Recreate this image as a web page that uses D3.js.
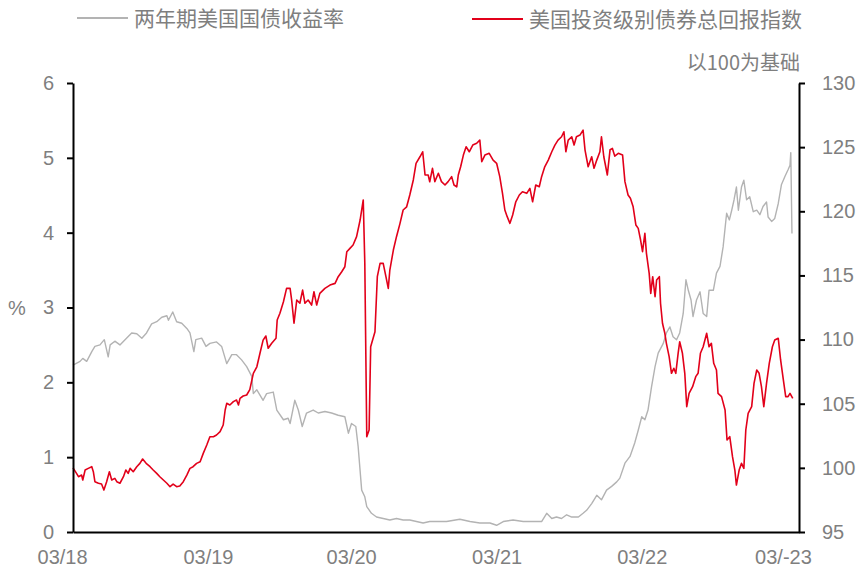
<!DOCTYPE html>
<html>
<head>
<meta charset="utf-8">
<script src="https://cdn.jsdelivr.net/npm/d3@7"></script>
<style>
  html, body { margin: 0; padding: 0; background: #ffffff; }
  svg { display: block; }
</style>
</head>
<body>
<svg id="chart" width="859" height="577"></svg>
<script>
// 2-year US Treasury yield (%), left axis
const yieldDates = [
  "2018-03-01","2018-03-19","2018-03-26","2018-04-05","2018-04-18","2018-04-26","2018-05-09","2018-05-20","2018-05-30","2018-06-04",
  "2018-06-16","2018-06-29","2018-07-12","2018-07-29","2018-08-11","2018-08-24","2018-09-05","2018-09-18","2018-10-01","2018-10-14",
  "2018-10-27","2018-10-31","2018-11-11","2018-11-21","2018-12-04","2018-12-17","2018-12-25","2019-01-04","2019-01-09","2019-01-24",
  "2019-02-04","2019-02-14","2019-03-03","2019-03-16","2019-03-29","2019-04-11","2019-04-23","2019-05-06","2019-05-19","2019-06-01",
  "2019-06-05","2019-06-14","2019-06-22","2019-06-30","2019-07-09","2019-07-26","2019-08-04","2019-08-21","2019-09-02","2019-09-07",
  "2019-09-19","2019-09-28","2019-10-08","2019-10-19","2019-11-05","2019-11-18","2019-12-05","2019-12-22","2020-01-08","2020-01-25",
  "2020-02-03","2020-02-11","2020-02-22","2020-02-28","2020-03-08","2020-03-16","2020-03-21","2020-04-02","2020-04-15","2020-05-02",
  "2020-05-19","2020-06-05","2020-06-22","2020-07-09","2020-07-26","2020-08-12","2020-08-29","2020-09-24","2020-10-11","2020-11-14",
  "2020-12-10","2021-01-04","2021-01-30","2021-02-16","2021-03-05","2021-03-30","2021-04-25","2021-05-21","2021-06-11","2021-06-24",
  "2021-07-07","2021-07-19","2021-08-01","2021-08-14","2021-08-27","2021-09-13","2021-09-25","2021-10-04","2021-10-17","2021-10-30",
  "2021-11-11","2021-11-24","2021-12-07","2021-12-20","2021-12-28","2022-01-10","2022-01-23","2022-02-04","2022-02-13","2022-02-22",
  "2022-03-02","2022-03-10","2022-03-19","2022-03-28","2022-04-05","2022-04-18","2022-04-26","2022-05-05","2022-05-13","2022-05-22",
  "2022-05-30","2022-06-08","2022-06-15","2022-06-21","2022-06-28","2022-07-03","2022-07-12","2022-07-21","2022-07-29","2022-08-07",
  "2022-08-13","2022-08-24","2022-09-01","2022-09-10","2022-09-18","2022-09-27","2022-10-04","2022-10-10","2022-10-16","2022-10-22",
  "2022-10-27","2022-11-04","2022-11-10","2022-11-17","2022-11-25","2022-12-04","2022-12-13","2022-12-21","2022-12-29","2023-01-07",
  "2023-01-11","2023-01-20","2023-01-28","2023-02-06","2023-02-14","2023-02-23","2023-03-03","2023-03-08","2023-03-10","2023-03-13"
];
const yieldValues = [
  2.23,2.28,2.32,2.28,2.41,2.48,2.50,2.57,2.34,2.50,
  2.55,2.50,2.57,2.66,2.65,2.59,2.66,2.78,2.81,2.87,
  2.89,2.83,2.94,2.81,2.79,2.72,2.66,2.41,2.57,2.59,
  2.48,2.52,2.54,2.48,2.25,2.37,2.37,2.30,2.21,2.08,
  1.85,1.90,1.83,1.76,1.85,1.87,1.63,1.50,1.52,1.45,
  1.76,1.63,1.41,1.59,1.63,1.59,1.61,1.59,1.56,1.54,
  1.32,1.45,1.41,1.14,0.56,0.47,0.34,0.25,0.20,0.18,
  0.16,0.18,0.16,0.16,0.14,0.12,0.14,0.14,0.14,0.17,
  0.14,0.12,0.12,0.09,0.14,0.16,0.14,0.14,0.14,0.25,
  0.18,0.20,0.18,0.23,0.20,0.20,0.25,0.29,0.38,0.49,
  0.43,0.56,0.61,0.67,0.72,0.92,1.01,1.19,1.36,1.54,
  1.50,1.63,1.94,2.21,2.39,2.52,2.66,2.74,2.61,2.57,
  2.66,2.92,3.37,3.23,3.10,2.88,3.10,3.21,2.92,2.88,
  3.23,3.23,3.46,3.55,3.81,4.26,4.17,4.30,4.44,4.61,
  4.30,4.61,4.70,4.44,4.48,4.28,4.30,4.24,4.35,4.41,
  4.21,4.15,4.19,4.39,4.64,4.75,4.84,4.90,5.07,3.99
];

// US investment grade bond total return index (base = 100), right axis
const indexDates = [
  "2018-03-01","2018-03-10","2018-03-15","2018-03-23","2018-03-26","2018-04-01","2018-04-09","2018-04-18","2018-04-22","2018-04-26",
  "2018-05-05","2018-05-13","2018-05-19","2018-05-26","2018-06-02","2018-06-08","2018-06-16","2018-06-21","2018-06-29","2018-07-08",
  "2018-07-14","2018-07-20","2018-07-25","2018-08-02","2018-08-11","2018-08-19","2018-08-26","2018-09-04","2018-09-14","2018-09-22",
  "2018-10-01","2018-10-09","2018-10-18","2018-10-27","2018-11-04","2018-11-12","2018-11-21","2018-11-29","2018-12-08","2018-12-17",
  "2018-12-25","2019-01-02","2019-01-11","2019-01-20","2019-01-28","2019-02-06","2019-02-14","2019-02-23","2019-03-03","2019-03-12",
  "2019-03-20","2019-03-25","2019-03-29","2019-04-06","2019-04-15","2019-04-23","2019-04-28","2019-05-02","2019-05-10","2019-05-19",
  "2019-05-27","2019-06-05","2019-06-14","2019-06-22","2019-06-30","2019-07-07","2019-07-13","2019-07-22","2019-08-02","2019-08-05",
  "2019-08-12","2019-08-21","2019-08-29","2019-09-07","2019-09-11","2019-09-17","2019-09-24","2019-10-02","2019-10-09","2019-10-15",
  "2019-10-23","2019-11-01","2019-11-07","2019-11-14","2019-11-22","2019-12-05","2019-12-18","2019-12-31","2020-01-08","2020-01-17",
  "2020-01-25","2020-01-30","2020-02-07","2020-02-15","2020-02-24","2020-03-04","2020-03-12","2020-03-16","2020-03-21","2020-03-27",
  "2020-03-31","2020-04-11","2020-04-17","2020-04-24","2020-05-02","2020-05-09","2020-05-15","2020-05-19","2020-05-28","2020-06-05",
  "2020-06-14","2020-06-22","2020-07-01","2020-07-09","2020-07-18","2020-07-25","2020-08-04","2020-08-11","2020-08-17","2020-08-25",
  "2020-08-29","2020-09-05","2020-09-11","2020-09-20","2020-09-28","2020-10-07","2020-10-15","2020-10-24","2020-10-30","2020-11-06",
  "2020-11-10","2020-11-16","2020-11-23","2020-11-30","2020-12-08","2020-12-17","2020-12-27","2021-01-04","2021-01-09","2021-01-17",
  "2021-01-28","2021-02-07","2021-02-16","2021-02-24","2021-03-03","2021-03-09","2021-03-15","2021-03-22","2021-03-29","2021-04-06",
  "2021-04-15","2021-04-23","2021-05-04","2021-05-12","2021-05-19","2021-05-27","2021-06-05","2021-06-11","2021-06-19","2021-06-28",
  "2021-07-07","2021-07-15","2021-07-23","2021-08-01","2021-08-07","2021-08-12","2021-08-18","2021-08-27","2021-09-02","2021-09-08",
  "2021-09-17","2021-09-25","2021-09-30","2021-10-08","2021-10-17","2021-10-23","2021-10-30","2021-11-07","2021-11-11","2021-11-17",
  "2021-11-26","2021-12-03","2021-12-09","2021-12-15","2021-12-24","2022-01-04","2022-01-10","2022-01-18","2022-01-24","2022-01-31",
  "2022-02-07","2022-02-13","2022-02-19","2022-02-24","2022-03-02","2022-03-06","2022-03-13","2022-03-17","2022-03-22","2022-03-28",
  "2022-04-01","2022-04-08","2022-04-11","2022-04-16","2022-04-22","2022-04-26","2022-05-03","2022-05-09","2022-05-15","2022-05-20",
  "2022-05-26","2022-05-30","2022-06-06","2022-06-12","2022-06-17","2022-06-23","2022-07-02","2022-07-10","2022-07-16","2022-07-22",
  "2022-07-29","2022-08-07","2022-08-13","2022-08-19","2022-08-25","2022-09-01","2022-09-05","2022-09-14","2022-09-23","2022-09-28",
  "2022-10-05","2022-10-12","2022-10-18","2022-10-22","2022-10-29","2022-11-04","2022-11-10","2022-11-15","2022-11-21","2022-11-30",
  "2022-12-06","2022-12-13","2022-12-19","2022-12-25","2022-12-31","2023-01-07","2023-01-14","2023-01-22","2023-01-28","2023-02-06",
  "2023-02-12","2023-02-19","2023-02-25","2023-03-03","2023-03-08","2023-03-15"
];
const indexValues = [
  100.00,99.57,99.31,99.44,99.05,99.83,99.96,100.09,99.70,98.92,
  98.80,98.74,98.27,98.92,99.70,99.05,99.18,98.92,98.80,99.31,
  99.83,99.57,99.96,99.70,100.09,100.35,100.69,100.35,100.09,99.83,
  99.57,99.31,99.05,98.80,98.53,98.74,98.53,98.59,98.92,99.44,
  99.96,100.09,100.35,100.48,101.13,101.78,102.43,102.43,102.56,102.82,
  103.34,104.51,105.03,104.90,105.16,105.29,104.90,105.42,105.60,105.68,
  106.10,107.37,107.88,108.93,109.96,110.28,109.32,109.71,110.10,111.52,
  112.05,112.95,113.99,113.99,113.08,111.27,113.08,112.83,113.86,112.83,
  113.08,112.69,113.73,112.69,113.60,113.99,114.25,114.38,114.90,115.29,
  115.68,116.85,117.11,117.37,118.02,119.32,120.88,115.94,102.43,102.95,
  109.44,110.61,114.90,115.94,115.94,114.90,113.99,115.42,116.98,118.02,
  119.06,120.10,120.35,121.27,122.44,123.74,124.25,124.64,122.83,122.83,
  122.30,123.35,122.31,122.96,122.31,122.05,122.31,122.70,122.05,121.91,
  122.83,123.47,124.38,125.03,124.64,125.16,125.30,125.55,123.86,124.38,
  124.52,123.99,123.74,122.70,121.40,120.10,119.58,119.06,119.71,120.74,
  121.27,121.52,121.40,121.79,120.74,122.05,121.91,122.70,123.47,123.99,
  124.64,125.16,125.55,125.81,126.20,124.64,125.55,125.81,125.16,125.81,
  125.94,126.33,124.77,123.47,124.25,123.35,123.99,124.64,125.81,124.25,
  122.83,124.80,124.90,124.30,124.52,124.38,122.31,121.27,121.01,120.35,
  118.93,118.67,117.76,116.85,118.28,116.72,115.16,113.60,114.90,113.34,
  114.64,114.90,112.83,111.27,110.49,109.71,108.67,107.37,107.76,107.37,
  108.93,109.83,108.93,107.37,104.77,105.81,106.33,107.11,107.37,108.93,
  109.44,110.49,109.44,109.71,108.15,107.63,105.81,105.55,104.51,102.17,
  102.43,100.87,99.83,98.66,99.83,100.35,99.96,102.95,104.25,104.77,
  106.59,107.63,107.37,106.33,104.77,106.59,108.15,109.44,109.96,110.10,
  108.41,106.85,105.55,105.55,105.81,105.42
];

// Axis ticks and labels
const leftTicks = [0, 1, 2, 3, 4, 5, 6];
const rightTicks = [95, 100, 105, 110, 115, 120, 125, 130];
const xTickDates = ["2018-02-01","2019-02-09","2020-02-10","2021-02-16","2022-02-22","2023-02-18"];
const xTickLabels = ["03/18","03/19","03/20","03/21","03/22","03/-23"];
const xDomain = ["2018-03-01", "2023-03-31"];
const seriesNames = ["两年期美国国债收益率", "美国投资级别债券总回报指数"];
const leftUnit = "%";
const rightUnit = "以100为基础";

const parse = d3.timeParse("%Y-%m-%d");
const yieldData = yieldDates.map((d, i) => ({ date: parse(d), value: yieldValues[i] }));
const indexData = indexDates.map((d, i) => ({ date: parse(d), value: indexValues[i] }));

const plot = { left: 73, right: 799, top: 83, bottom: 532 };
const GREY = "#b3b3b3";
const RED = "#e2001a";
const TEXT = "#7f7f7f";
const NUM_FONT = '"Liberation Sans", Arial, sans-serif';
const CJK_FONT = '"Noto Sans CJK SC", "Noto Sans", sans-serif';

const x = d3.scaleTime().domain(xDomain.map(parse)).range([plot.left, plot.right]);
const yL = d3.scaleLinear().domain([0, 6]).range([plot.bottom, plot.top]);
const yR = d3.scaleLinear().domain([95, 130]).range([plot.bottom, plot.top]);

const svg = d3.select("#chart");

// Series lines: yield underneath, index on top
const yieldLine = d3.line().x(d => x(d.date)).y(d => yL(d.value));
const indexLine = d3.line().x(d => x(d.date)).y(d => yR(d.value));

svg.append("path")
  .datum(yieldData)
  .attr("d", yieldLine)
  .attr("fill", "none")
  .attr("stroke", GREY)
  .attr("stroke-width", 1.4)
  .attr("stroke-linejoin", "round");

svg.append("path")
  .datum(indexData)
  .attr("d", indexLine)
  .attr("fill", "none")
  .attr("stroke", RED)
  .attr("stroke-width", 1.6)
  .attr("stroke-linejoin", "round");

function styleAxis(g) {
  g.select(".domain").attr("stroke", "#000").attr("stroke-width", 2);
  g.selectAll(".tick line").attr("stroke", "#000").attr("stroke-width", 2);
  g.selectAll(".tick text")
    .attr("fill", TEXT)
    .attr("font-family", NUM_FONT)
    .attr("font-size", 20);
}

// Bottom axis
svg.append("g")
  .attr("transform", `translate(0,${plot.bottom})`)
  .call(d3.axisBottom(x)
    .tickValues(xTickDates.map(parse))
    .tickFormat((d, i) => xTickLabels[i])
    .tickSize(0)
    .tickSizeOuter(0)
    .tickPadding(18))
  .call(styleAxis);

// Left axis (%)
svg.append("g")
  .attr("transform", `translate(${plot.left},0)`)
  .call(d3.axisLeft(yL)
    .tickValues(leftTicks)
    .tickFormat(d3.format("d"))
    .tickSize(6)
    .tickSizeOuter(0)
    .tickPadding(13))
  .call(styleAxis);

// Right axis (index)
svg.append("g")
  .attr("transform", `translate(${plot.right},0)`)
  .call(d3.axisRight(yR)
    .tickValues(rightTicks)
    .tickFormat(d3.format("d"))
    .tickSize(6)
    .tickSizeOuter(0)
    .tickPadding(17))
  .call(styleAxis);

// Axis units
svg.append("text")
  .attr("x", 8)
  .attr("y", yL(3))
  .attr("dy", "0.35em")
  .attr("fill", TEXT)
  .attr("font-family", NUM_FONT)
  .attr("font-size", 20)
  .text(leftUnit);

svg.append("text")
  .attr("x", 800)
  .attr("y", 70)
  .attr("text-anchor", "end")
  .attr("fill", TEXT)
  .attr("font-family", CJK_FONT)
  .attr("font-size", 20)
  .text(rightUnit);

// Legend
const legendItems = [
  { name: seriesNames[0], color: GREY, x0: 77, y: 18 },
  { name: seriesNames[1], color: RED, x0: 472, y: 19 }
];
const legend = svg.append("g");
legendItems.forEach(item => {
  legend.append("line")
    .attr("x1", item.x0).attr("x2", item.x0 + 51)
    .attr("y1", item.y).attr("y2", item.y)
    .attr("stroke", item.color)
    .attr("stroke-width", 2);
  legend.append("text")
    .attr("x", item.x0 + 57)
    .attr("y", item.y + 8)
    .attr("fill", TEXT)
    .attr("font-family", CJK_FONT)
    .attr("font-size", 21)
    .text(item.name);
});
</script>
</body>
</html>
